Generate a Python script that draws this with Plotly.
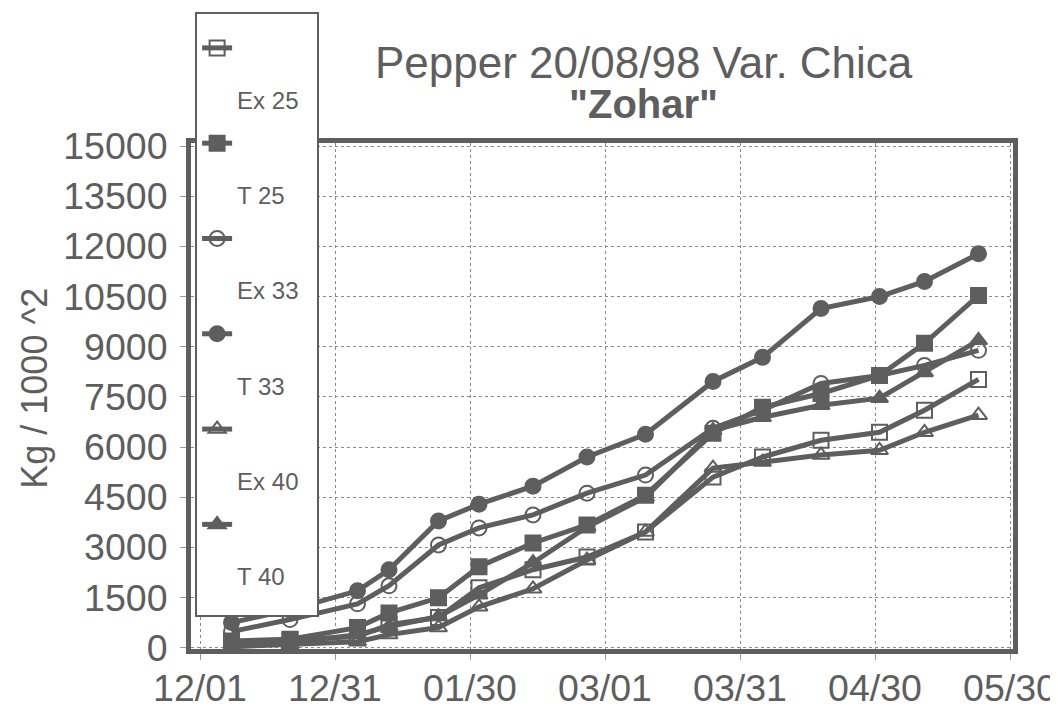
import plotly.graph_objects as go

# harvest dates (season 1998/99)
dates = ['1998-12-08', '1998-12-21', '1999-01-05', '1999-01-12', '1999-01-23',
	'1999-02-01', '1999-02-13', '1999-02-25', '1999-03-10', '1999-03-25',
	'1999-04-05', '1999-04-18', '1999-05-01', '1999-05-11', '1999-05-23']

ex25 = [60, 240, 330, 690, 900, 1790, 2330, 2710, 3460, 5100, 5700, 6200, 6440, 7100, 8020]
t25 = [200, 250, 600, 1040, 1490, 2420, 3130, 3670, 4560, 6410, 7190, 7600, 8140, 9100, 10530]
ex33 = [480, 840, 1310, 1850, 3070, 3580, 3970, 4620, 5160, 6560, 7100, 7900, 8140, 8440, 8890]
t33 = [750, 1130, 1700, 2330, 3790, 4290, 4830, 5700, 6380, 7960, 8680, 10140, 10500, 10950, 11780]
ex40 = [30, 90, 180, 390, 600, 1220, 1760, 2620, 3460, 5370, 5550, 5760, 5900, 6440, 6950]
t40 = [30, 150, 390, 630, 930, 1580, 2540, 3610, 4500, 6500, 6890, 7250, 7460, 8230, 9190]

series_names = ['Ex 25', 'T 25', 'Ex 33', 'T 33', 'Ex 40', 'T 40']
series_values = [ex25, t25, ex33, t33, ex40, t40]
series_symbols = ['square-open', 'square', 'circle-open', 'circle', 'triangle-up-open', 'triangle-up']

x_ticks = ['1998-12-01', '1998-12-31', '1999-01-30', '1999-03-01', '1999-03-31', '1999-04-30', '1999-05-30']
y_ticks = [0, 1500, 3000, 4500, 6000, 7500, 9000, 10500, 12000, 13500, 15000]

GRAY = '#5e5e5e'
FONT = 'Liberation Sans, Arial, sans-serif'

fig = go.Figure()

for name, vals, sym in zip(series_names, series_values, series_symbols):
	fig.add_trace(go.Scatter(
		x=dates,
		y=vals,
		# symbol on the first line, label in a bigger span a few lines below
		name='&nbsp;<br>&nbsp;<br>&nbsp;<br><span style="font-size:24px">' + name + '&nbsp;&nbsp;</span><br>&nbsp;',
		mode='lines+markers',
		line=dict(color=GRAY, width=5),
		marker=dict(symbol=sym, size=15, color=GRAY, line=dict(color=GRAY, width=2))
	))

fig.add_annotation(text='Pepper 20/08/98 Var. Chica', x=0.551, y=1.160, xref='paper', yref='paper',
	xanchor='center', yanchor='middle',
	showarrow=False, font=dict(family=FONT, size=44, color=GRAY))
fig.add_annotation(text='<b>"Zohar"</b>', x=0.551, y=1.077, xref='paper', yref='paper',
	xanchor='center', yanchor='middle',
	showarrow=False, font=dict(family=FONT, size=40, color=GRAY))
fig.add_annotation(text='Kg / 1000 ^2', x=-0.19, y=0.516, xref='paper', yref='paper',
	xanchor='center', yanchor='middle',
	textangle=-90, showarrow=False, font=dict(family=FONT, size=36, color=GRAY))

fig.update_layout(
	width=1050,
	height=706,
	margin=dict(l=183, r=45, t=135, b=65, autoexpand=False),
	paper_bgcolor='white',
	plot_bgcolor='white',
	font=dict(family=FONT, color=GRAY),
	showlegend=True,
	legend=dict(
		x=0.005, y=1.259, xanchor='left', yanchor='top',
		bgcolor='white', bordercolor=GRAY, borderwidth=2,
		font=dict(family=FONT, size=14.2, color=GRAY),
		title=dict(text='&nbsp;', font=dict(size=14)),
		valign='top', itemwidth=30, maxheight=700
	),
	xaxis=dict(
		type='date',
		range=['1998-11-29', '1999-05-30 16:00'],
		tickvals=x_ticks,
		tickformat='%m/%d',
		tickfont=dict(family=FONT, size=37.5, color=GRAY),
		showgrid=True, gridcolor='#8a8a8a', griddash='dot', gridwidth=1,
		showline=True, linecolor=GRAY, linewidth=5, mirror=True,
		ticks='outside', ticklen=6, tickcolor='#9a9a9a', tickwidth=1,
		ticklabelstandoff=-4,
		zeroline=False
	),
	yaxis=dict(
		range=[-40, 15090],
		tickvals=y_ticks,
		tickformat='d',
		tickfont=dict(family=FONT, size=37.5, color=GRAY),
		showgrid=True, gridcolor='#8a8a8a', griddash='dot', gridwidth=1,
		showline=True, linecolor=GRAY, linewidth=5, mirror=True,
		ticks='outside', ticklen=6, tickcolor='#9a9a9a', tickwidth=1,
		ticklabelstandoff=5,
		zeroline=False
	)
)

fig.write_html('out.html')
